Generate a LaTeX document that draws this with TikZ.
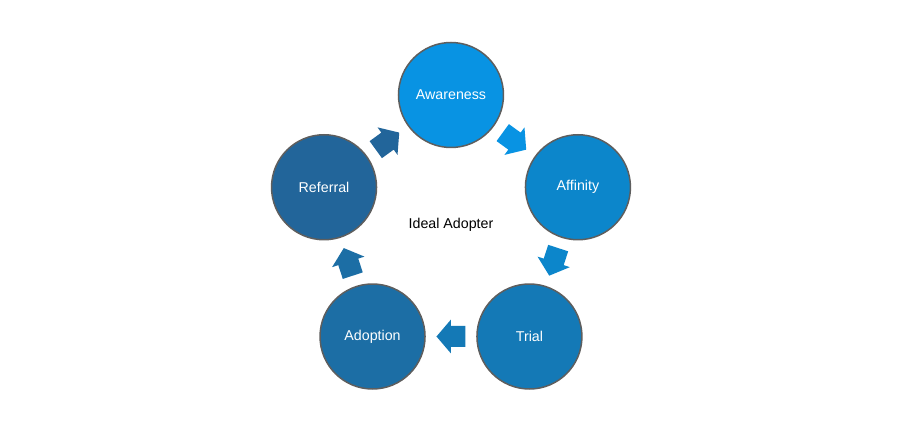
\documentclass[tikz,border=0pt]{standalone}
\usepackage{fontspec}
\setmainfont{Liberation Sans}
\usepackage{xcolor}
\usetikzlibrary{positioning,calc}

\definecolor{cAware}{HTML}{0893E3}
\definecolor{cAff}{HTML}{0C86CB}
\definecolor{cTrial}{HTML}{1479B6}
\definecolor{cAdopt}{HTML}{1C6EA5}
\definecolor{cRef}{HTML}{22659A}
\definecolor{rim}{HTML}{5E5E5E}

\tikzset{
    stage/.style={circle, draw=rim, line width=0.85pt, minimum size=2.1cm,
        inner sep=0pt, text=white, font=\fontsize{8.1}{10}\selectfont},
    hub/.style={font=\fontsize{8.1}{10}\selectfont, text=black}
}

\begin{document}
\begin{tikzpicture}
        \useasboundingbox[fill=white] (-9.02,-4.03) rectangle (8.98,4.57);
        % stages round the hub
        \node[stage, fill=cAware] (aware) at (90:2.67) {Awareness};
        \node[stage, fill=cAff] (aff) at (18:2.67) {Affinity};
        \node[stage, fill=cTrial] (trial) at (-54:2.67) {Trial};
        \node[stage, fill=cAdopt] (adopt) at (-126:2.67) {Adoption};
        \node[stage, fill=cRef] (ref) at (162:2.67) {Referral};
        \node[hub] (ideal) at (0,0.07) {Ideal Adopter};
        % block arrows between the stages
        \foreach \a/\c in {90/cAware, 18/cAff, -54/cTrial, -126/cAdopt, 162/cRef}
            \fill[\c, shift={(\a-36:2.16)}, rotate=\a-126]
                (-0.29,0.21) -- (0,0.21) -- (0,0.34) -- (0.29,0)
                -- (0,-0.34) -- (0,-0.21) -- (-0.29,-0.21) -- cycle;
    \end{tikzpicture}
\end{document}
